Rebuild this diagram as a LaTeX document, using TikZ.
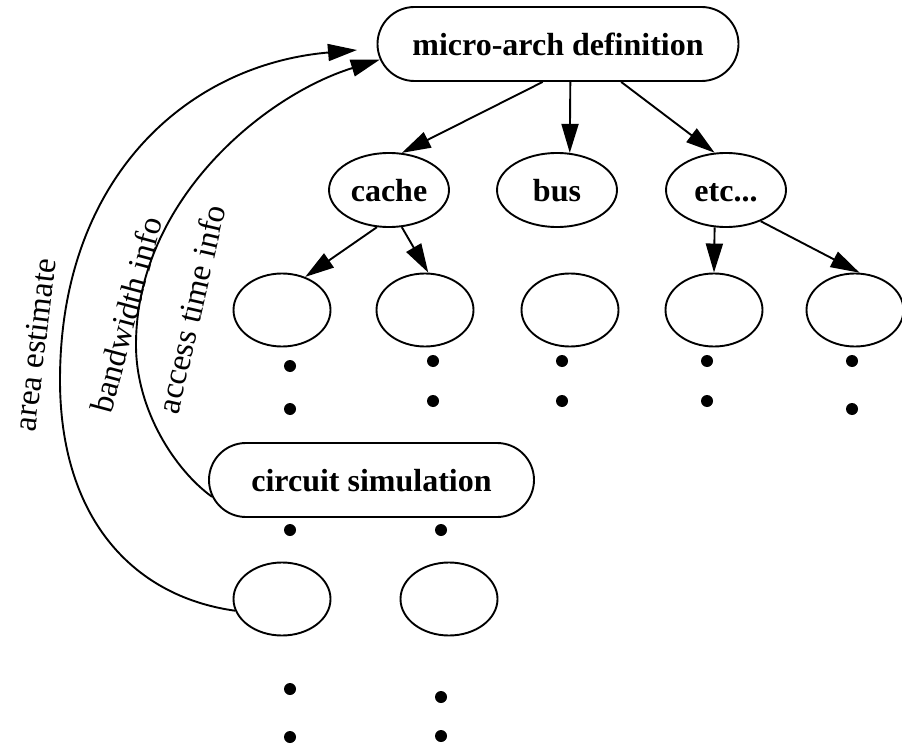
\documentclass[tikz,border=0pt]{standalone}
\usepackage{fontspec}
\setmainfont{Liberation Serif}
\usetikzlibrary{arrows.meta,shapes.geometric,shapes.misc}

\begin{document}
\begin{tikzpicture}[x=1pt,y=-1pt,>={Triangle[length=29pt,width=17pt]},line width=1.9pt,
    pill/.style={draw,rounded rectangle,minimum height=74pt,inner sep=0pt,text height=23pt,text depth=0pt,font=\fontsize{32}{38}\selectfont\bfseries},
    part/.style={draw,ellipse,minimum width=120pt,minimum height=74pt,inner sep=0pt,text height=23pt,text depth=0pt,font=\fontsize{32}{38}\selectfont\bfseries},
    leaf/.style={draw,ellipse,minimum width=97pt,minimum height=73pt,inner sep=0pt},
    note/.style={font=\fontsize{33}{40}\selectfont,inner sep=0pt}]
    \useasboundingbox (0,0) rectangle (902,746);
    % definition tree
    \node[pill,minimum width=361pt] (micro) at (558,44) {micro-arch definition};
    \node[part] (cache) at (389,190) {cache};
    \node[part] (bus) at (557,190) {bus};
    \node[part] (etc) at (726,190) {etc...};
    \node[leaf] (c1) at (282,310) {};
    \node[leaf] (c2) at (425,310) {};
    \node[leaf] (b1) at (570,310) {};
    \node[leaf] (e1) at (714,310) {};
    \node[leaf] (e2) at (855,310) {};
    \draw[->] (micro.248) -- (cache.71);
    \draw[->] (micro.288) -- (bus.71);
    \draw[->] (micro.329) -- (etc.107);
    \draw[->] (cache.252) -- (c1.55);
    \draw[->] (cache.289) -- (c2.85);
    \draw[->] (etc.253) -- (e1.90);
    \draw[->] (etc.318) -- (e2.83);
    % simulation side
    \node[pill,minimum width=325pt] (sim) at (371.5,480) {circuit simulation};
    \node[leaf] (s1) at (282,599) {};
    \node[leaf] (s2) at (449,599) {};
    \foreach \x/\y in {290/366,290/409,433/361,433/401,562/361,562/401,707/361,707/401,852/361,852/409,
                       290/530,441/530,290/689,290/737,441/697,441/736}
      \fill (\x,\y) circle[radius=6pt];
    % feedback
    \coordinate (areatip) at (357,50);
    \draw[->] (s1.194) .. controls (130,596) and (60,515) .. (60,380)
      .. controls (60,180) and (185,65) .. (areatip);
    \draw[->] (sim.186) .. controls (175,470) and (136,410) .. (136,345)
      .. controls (136,200) and (265,95) .. (micro.185);
    \node[note,rotate=83] (area) at (35,345) {area estimate};
    \node[note,rotate=75] (band) at (126,315) {bandwidth info};
    \node[note,rotate=77] (access) at (191,309) {access time info};
\end{tikzpicture}
\end{document}
